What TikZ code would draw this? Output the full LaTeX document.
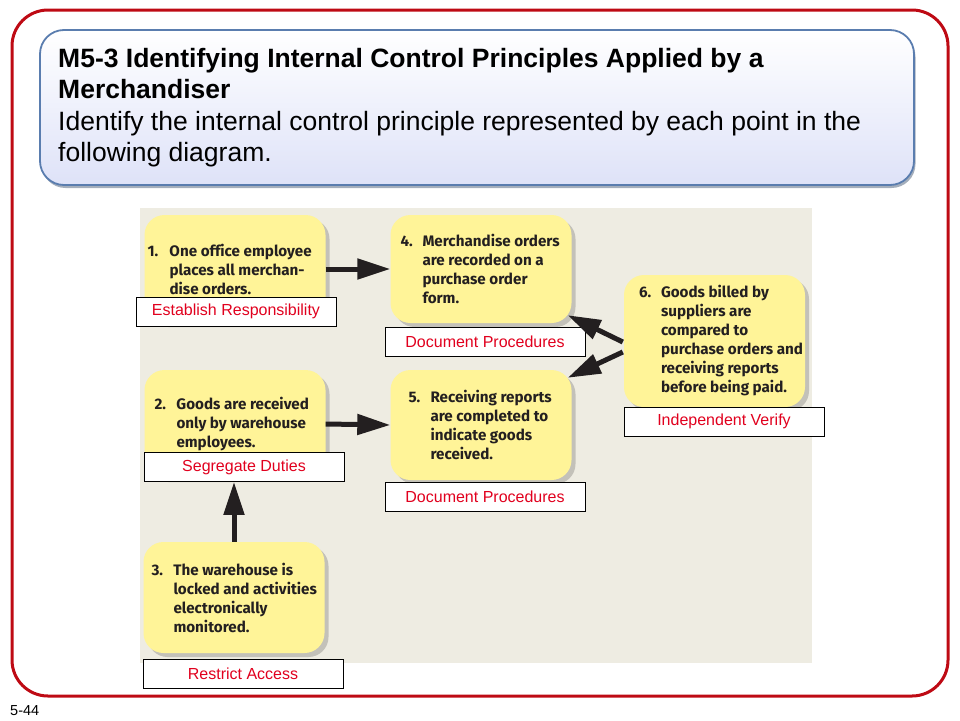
\documentclass[tikz,border=0pt]{standalone}
\usepackage{fontspec}
\setmainfont{Liberation Sans}
\newfontfamily\boxfont{Fira Sans}[Ligatures=NoCommon]
\usetikzlibrary{arrows.meta,shadows,calc}
\definecolor{slidered}{RGB}{190,10,20}
\definecolor{titleedge}{RGB}{90,125,175}
\definecolor{titlebot}{RGB}{222,226,248}
\definecolor{beige}{RGB}{238,236,226}
\definecolor{boxyellow}{RGB}{255,244,152}
\definecolor{boxtext}{RGB}{35,31,32}
\definecolor{labelred}{RGB}{225,0,30}
\newcommand\numlbl[1]{\makebox[22pt][l]{#1}}
\newcommand\indt{\hspace*{22pt}}
\tikzset{
  yelbox/.style={rounded corners=20pt, fill=boxyellow, draw=none, inner sep=0pt,
    minimum width=181pt,
    drop shadow={shadow xshift=4pt, shadow yshift=-4pt, opacity=0.18, fill=black}},
  boxtxt/.style={anchor=west, inner sep=0pt, align=left, text=boxtext,
    font=\boxfont\bfseries\fontsize{15.2}{19}\selectfont},
  lbl/.style={draw=black, line width=0.8pt, fill=white, minimum width=200pt,
    minimum height=29pt, inner sep=0pt, text=labelred,
    font=\fontsize{16}{19}\selectfont},
  bigarrow/.style={line width=5pt, draw=boxtext,
    -{Triangle[length=33pt,width=20pt]}}
}
\begin{document}
\begin{tikzpicture}[x=1pt,y=-1pt]
\useasboundingbox (0,0) rectangle (960,720);
% outer slide frame
\draw[slidered, line width=3pt, rounded corners=36pt] (12,10) rectangle (948,696);
% title box
\node[draw=titleedge, line width=1.8pt, rounded corners=24pt,
  top color=white, bottom color=titlebot,
  minimum width=874pt, minimum height=155pt, inner sep=0pt,
  drop shadow={shadow xshift=1.5pt, shadow yshift=-3pt, opacity=0.45, fill=titleedge!60!black}]
  (titlebox) at (477,107.5) {};
\node[anchor=north west, align=left, inner sep=0pt, text=black,
  font=\fontsize{26.5}{31.5}\selectfont] (titletext) at (58,48)
  {\textbf{M5-3 Identifying Internal Control Principles Applied by a}\\
   \textbf{Merchandiser}\\
   Identify the internal control principle represented by each point in the\\
   following diagram.};
% diagram background
\node[fill=beige, draw=none, minimum width=672pt, minimum height=455pt, inner sep=0pt]
  (bg) at (476,435.5) {};
% yellow boxes
\node[yelbox, minimum height=108pt] (b1) at (235,269) {};
\node[yelbox, minimum height=108pt] (b4) at (481,269) {};
\node[yelbox, minimum height=132pt] (b6) at (714.5,341) {};
\node[yelbox, minimum height=110pt] (b5) at (481,425) {};
\node[yelbox, minimum height=108pt] (b2) at (235,424) {};
\node[yelbox, minimum height=111pt] (b3) at (234,597.5) {};
% box texts
\node[boxtxt] (t1) at ($(b1.west)+(3,0)$)
  {\numlbl{1.}One office employee\\\indt places all merchan-\\\indt dise orders.};
\node[boxtxt] (t4) at ($(b4.west)+(10,0)$)
  {\numlbl{4.}Merchandise orders\\\indt are recorded on a\\\indt purchase order\\\indt form.};
\node[boxtxt] (t6) at ($(b6.west)+(15,0)$)
  {\numlbl{6.}Goods billed by\\\indt suppliers are\\\indt compared to\\\indt purchase orders and\\\indt receiving reports\\\indt before being paid.};
\node[boxtxt] (t5) at ($(b5.west)+(18,0)$)
  {\numlbl{5.}Receiving reports\\\indt are completed to\\\indt indicate goods\\\indt received.};
\node[boxtxt] (t2) at ($(b2.west)+(10,0)$)
  {\numlbl{2.}Goods are received\\\indt only by warehouse\\\indt employees.};
\node[boxtxt] (t3) at ($(b3.west)+(8,0)$)
  {\numlbl{3.}The warehouse is\\\indt locked and activities\\\indt electronically\\\indt monitored.};
% labels
\node[lbl] (l1) at (236,311.5) {Establish Responsibility};
\node[lbl] (l4) at (485,341.5) {Document Procedures};
\node[lbl] (l6) at (724,421.5) {Independent Verify};
\node[lbl] (l2) at (244,467) {Segregate Duties};
\node[lbl] (l5) at (485,496.5) {Document Procedures};
\node[lbl] (l3) at (243,673.5) {Restrict Access};
% arrows
\draw[bigarrow] (b1.east) -- (b4.west);
\draw[bigarrow] (b2.east) -- (b5.west);
\draw[bigarrow] (b3.north) -- (b3.north |- l2.south);
\draw[bigarrow] ($(b6.west)+(-1,1)$) -- ($(b4.south east)+(-4,-8)$);
\draw[bigarrow] ($(b6.west)+(-1,11)$) -- ($(b5.north east)+(-4,8)$);
% page number
\node[anchor=base west, inner sep=0pt, font=\fontsize{14.5}{18}\selectfont] (pg) at (10,715) {5-44};
\end{tikzpicture}
\end{document}
